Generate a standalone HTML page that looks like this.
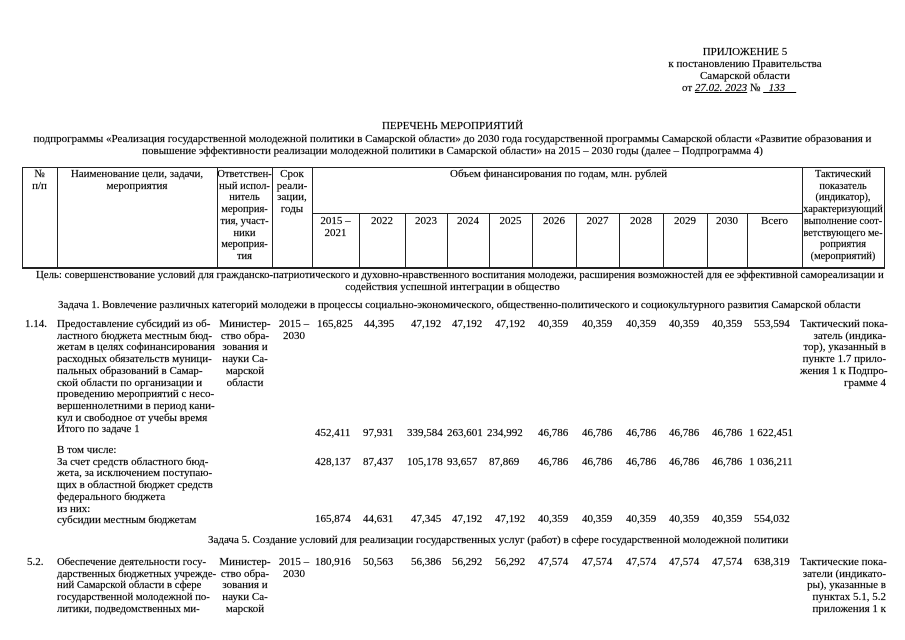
<!DOCTYPE html>
<html><head><meta charset="utf-8"><style>
body{margin:0;width:905px;height:640px;background:#fff;position:relative;overflow:hidden;font-family:"Liberation Serif","DejaVu Serif",serif;font-size:11px;color:#000;-webkit-text-stroke:0.15px #000}
.t{position:absolute;white-space:nowrap;line-height:11.7px}
.c{text-align:center}
.v{position:absolute;width:1px;background:#222}
.h{position:absolute;height:1px;background:#222}
</style></head><body>
<div class="t c" style="left:645px;top:47px;width:200px">ПРИЛОЖЕНИЕ 5</div>
<div class="t c" style="left:645px;top:59px;width:200px">к постановлению Правительства</div>
<div class="t c" style="left:645px;top:71px;width:200px">Самарской области</div>
<div class="t" style="left:682px;top:83px">от <span style="font-style:italic;text-decoration:underline">27.02. 2023</span> № <span style="font-style:italic;text-decoration:underline">&nbsp;&nbsp;133&nbsp;&nbsp;&nbsp;&nbsp;</span></div>

<div class="t c" style="left:0;top:121px;width:905px">ПЕРЕЧЕНЬ МЕРОПРИЯТИЙ</div>
<div class="t c" style="left:0;top:134px;width:905px">подпрограммы «Реализация государственной молодежной политики в Самарской области» до 2030 года государственной программы Самарской области «Развитие образования и</div>
<div class="t c" style="left:0;top:146px;width:905px">повышение эффективности реализации молодежной политики в Самарской области» на 2015 – 2030 годы (далее – Подпрограмма 4)</div>

<div class="h" style="left:22px;top:167px;width:863px"></div>
<div class="h" style="left:22px;top:267px;width:863px;height:1.5px"></div>
<div class="h" style="left:312px;top:213px;width:490px"></div>
<div class="v" style="left:22px;top:167px;height:100px"></div>
<div class="v" style="left:57px;top:167px;height:100px"></div>
<div class="v" style="left:217px;top:167px;height:100px"></div>
<div class="v" style="left:272px;top:167px;height:100px"></div>
<div class="v" style="left:312px;top:167px;height:100px"></div>
<div class="v" style="left:359px;top:213px;height:54px"></div>
<div class="v" style="left:405px;top:213px;height:54px"></div>
<div class="v" style="left:447px;top:213px;height:54px"></div>
<div class="v" style="left:489px;top:213px;height:54px"></div>
<div class="v" style="left:532px;top:213px;height:54px"></div>
<div class="v" style="left:576px;top:213px;height:54px"></div>
<div class="v" style="left:619px;top:213px;height:54px"></div>
<div class="v" style="left:663px;top:213px;height:54px"></div>
<div class="v" style="left:707px;top:213px;height:54px"></div>
<div class="v" style="left:747px;top:213px;height:54px"></div>
<div class="v" style="left:802px;top:167px;height:100px"></div>
<div class="v" style="left:884px;top:167px;height:100px"></div>

<div class="t c" style="left:22px;top:169px;width:35px">№<br>п/п</div>
<div class="t c" style="left:57px;top:169px;width:160px">Наименование цели, задачи,<br>мероприятия</div>
<div class="t c" style="left:217px;top:169px;width:55px;font-size:10.5px">Ответствен-<br>ный испол-<br>нитель<br>мероприя-<br>тия, участ-<br>ники<br>мероприя-<br>тия</div>
<div class="t c" style="left:272px;top:169px;width:40px">Срок<br>реали-<br>зации,<br>годы</div>
<div class="t" style="left:450px;top:169px">Объем финансирования по годам, млн. рублей</div>
<div class="t c" style="left:802px;top:169px;width:82px;font-size:10.3px">Тактический<br>показатель<br>(индикатор),<br>характеризующий<br>выполнение соот-<br>ветствующего ме-<br>роприятия<br>(мероприятий)</div>
<div class="t c" style="left:312px;top:216px;width:47px">2015 –<br>2021</div>
<div class="t c" style="left:359px;top:216px;width:46px">2022</div>
<div class="t c" style="left:405px;top:216px;width:42px">2023</div>
<div class="t c" style="left:447px;top:216px;width:42px">2024</div>
<div class="t c" style="left:489px;top:216px;width:43px">2025</div>
<div class="t c" style="left:532px;top:216px;width:44px">2026</div>
<div class="t c" style="left:576px;top:216px;width:43px">2027</div>
<div class="t c" style="left:619px;top:216px;width:44px">2028</div>
<div class="t c" style="left:663px;top:216px;width:44px">2029</div>
<div class="t c" style="left:707px;top:216px;width:40px">2030</div>
<div class="t c" style="left:747px;top:216px;width:55px">Всего</div>

<div class="t" style="left:36px;top:270px;font-size:10.8px">Цель: совершенствование условий для гражданско-патриотического и духовно-нравственного воспитания молодежи, расширения возможностей для ее эффективной самореализации и</div>
<div class="t c" style="left:0;top:282px;width:905px">содействия успешной интеграции в общество</div>
<div class="t" style="left:58px;top:300px;font-size:10.9px">Задача 1. Вовлечение различных категорий молодежи в процессы социально-экономического, общественно-политического и социокультурного развития Самарской области</div>

<div class="t" style="left:25px;top:319px">1.14.</div>
<div class="t" style="left:57px;top:319px">Предоставление субсидий из об-<br>ластного бюджета местным бюд-<br>жетам в целях софинансирования<br>расходных обязательств муници-<br>пальных образований в Самар-<br>ской области по организации и<br>проведению мероприятий с несо-<br>вершеннолетними в период кани-<br>кул и свободное от учебы время<br>Итого по задаче 1</div>
<div class="t c" style="left:216px;top:319px;width:58px">Министер-<br>ство обра-<br>зования и<br>науки Са-<br>марской<br>области</div>
<div class="t c" style="left:274px;top:319px;width:40px">2015 –<br>2030</div>
<div class="t" style="left:800px;top:319px;width:86px;text-align:right">Тактический пока-<br>затель (индика-<br>тор), указанный в<br>пункте 1.7 прило-<br>жения 1 к Подпро-<br>грамме 4</div>

<div class="t" style="left:57px;top:445px">В том числе:<br>За счет средств областного бюд-<br>жета, за исключением поступаю-<br>щих в областной бюджет средств<br>федерального бюджета<br>из них:<br>субсидии местным бюджетам</div>

<div class="t" style="left:208px;top:535px">Задача 5. Создание условий для реализации государственных услуг (работ) в сфере государственной молодежной политики</div>

<div class="t" style="left:27px;top:557px">5.2.</div>
<div class="t" style="left:57px;top:557px;font-size:10.7px">Обеспечение деятельности госу-<br>дарственных бюджетных учрежде-<br>ний Самарской области в сфере<br>государственной молодежной по-<br>литики, подведомственных ми-</div>
<div class="t c" style="left:216px;top:557px;width:58px">Министер-<br>ство обра-<br>зования и<br>науки Са-<br>марской</div>
<div class="t c" style="left:274px;top:557px;width:40px">2015 –<br>2030</div>
<div class="t" style="left:800px;top:557px;width:86px;text-align:right">Тактические пока-<br>затели (индикато-<br>ры), указанные в<br>пунктах 5.1, 5.2<br>приложения 1 к</div>

<div class="t" style="left:317px;top:319px">165,825</div><div class="t" style="left:364px;top:319px">44,395</div><div class="t" style="left:411px;top:319px">47,192</div><div class="t" style="left:452px;top:319px">47,192</div><div class="t" style="left:495px;top:319px">47,192</div><div class="t" style="left:538px;top:319px">40,359</div><div class="t" style="left:582px;top:319px">40,359</div><div class="t" style="left:626px;top:319px">40,359</div><div class="t" style="left:669px;top:319px">40,359</div><div class="t" style="left:712px;top:319px">40,359</div><div class="t" style="left:754px;top:319px">553,594</div>

<div class="t" style="left:315px;top:428px">452,411</div><div class="t" style="left:363px;top:428px">97,931</div><div class="t" style="left:407px;top:428px">339,584</div><div class="t" style="left:447px;top:428px">263,601</div><div class="t" style="left:487px;top:428px">234,992</div><div class="t" style="left:538px;top:428px">46,786</div><div class="t" style="left:582px;top:428px">46,786</div><div class="t" style="left:626px;top:428px">46,786</div><div class="t" style="left:669px;top:428px">46,786</div><div class="t" style="left:712px;top:428px">46,786</div><div class="t" style="left:749px;top:428px">1 622,451</div>

<div class="t" style="left:315px;top:457px">428,137</div><div class="t" style="left:363px;top:457px">87,437</div><div class="t" style="left:407px;top:457px">105,178</div><div class="t" style="left:447px;top:457px">93,657</div><div class="t" style="left:489px;top:457px">87,869</div><div class="t" style="left:538px;top:457px">46,786</div><div class="t" style="left:582px;top:457px">46,786</div><div class="t" style="left:626px;top:457px">46,786</div><div class="t" style="left:669px;top:457px">46,786</div><div class="t" style="left:712px;top:457px">46,786</div><div class="t" style="left:749px;top:457px">1 036,211</div>

<div class="t" style="left:315px;top:514px">165,874</div><div class="t" style="left:363px;top:514px">44,631</div><div class="t" style="left:411px;top:514px">47,345</div><div class="t" style="left:452px;top:514px">47,192</div><div class="t" style="left:495px;top:514px">47,192</div><div class="t" style="left:538px;top:514px">40,359</div><div class="t" style="left:582px;top:514px">40,359</div><div class="t" style="left:626px;top:514px">40,359</div><div class="t" style="left:669px;top:514px">40,359</div><div class="t" style="left:712px;top:514px">40,359</div><div class="t" style="left:754px;top:514px">554,032</div>

<div class="t" style="left:315px;top:557px">180,916</div><div class="t" style="left:363px;top:557px">50,563</div><div class="t" style="left:411px;top:557px">56,386</div><div class="t" style="left:452px;top:557px">56,292</div><div class="t" style="left:495px;top:557px">56,292</div><div class="t" style="left:538px;top:557px">47,574</div><div class="t" style="left:582px;top:557px">47,574</div><div class="t" style="left:626px;top:557px">47,574</div><div class="t" style="left:669px;top:557px">47,574</div><div class="t" style="left:712px;top:557px">47,574</div><div class="t" style="left:754px;top:557px">638,319</div>
</body></html>
